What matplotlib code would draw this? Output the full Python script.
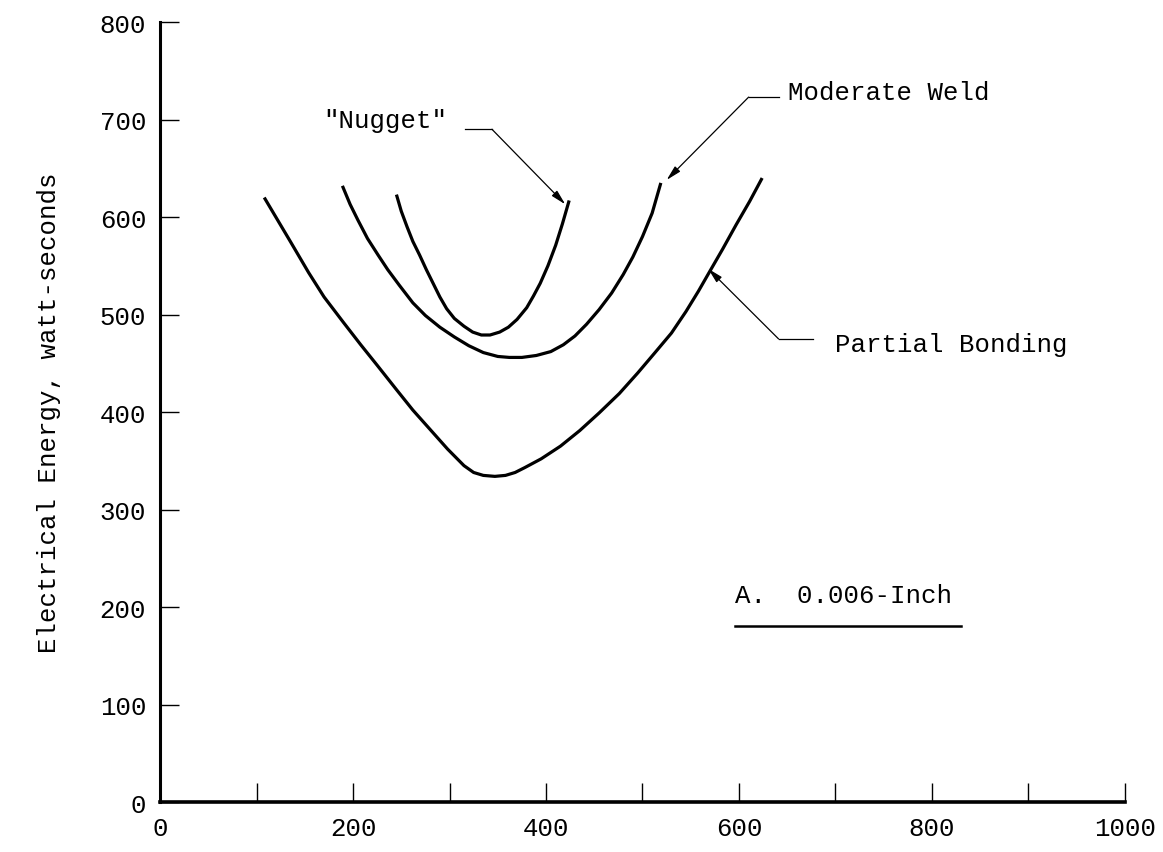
import numpy as np
import matplotlib
matplotlib.use('Agg')
import matplotlib.pyplot as plt

# values (x: unlabeled axis 0-1000, y: watt-seconds)
partial_x = [108, 120, 135, 154, 170, 190, 208, 225, 245, 262, 280, 298, 315,
             325, 335, 347, 358, 368, 378, 395, 415, 435, 455, 476, 495, 513,
             530, 545, 558, 569, 583, 597, 611, 624]
partial_y = [620, 600, 575, 543, 518, 492, 469, 448, 423, 402, 382, 362, 345,
             338, 335, 334, 335, 338, 343, 352, 365, 381, 399, 419, 440, 461,
             481, 503, 524, 543, 567, 592, 616, 640]

moderate_x = [189, 197, 205, 215, 226, 236, 248, 262, 275, 290, 305, 320, 335,
              350, 362, 375, 390, 405, 418, 430, 442, 455, 468, 480, 490, 500,
              510, 519]
moderate_y = [632, 613, 597, 578, 561, 546, 530, 512, 499, 487, 477, 468, 461,
              457, 456, 456, 458, 462, 469, 478, 490, 505, 522, 541, 559, 580,
              604, 635]

nugget_x = [245, 250, 256, 262, 269, 276, 283, 290, 297, 305, 315, 324, 333,
            342, 352, 361, 370, 380, 387, 394, 402, 410, 417, 424]
nugget_y = [623, 606, 590, 575, 561, 546, 532, 518, 506, 496, 488, 482, 479,
            479, 482, 487, 495, 507, 519, 532, 550, 571, 593, 617]

x_ticks = list(range(0, 1001, 100))
x_labels = ['0', '', '200', '', '400', '', '600', '', '800', '', '1000']
y_ticks = list(range(0, 801, 100))

# (label, text position, start of leader, kink, arrow tip)
callouts = [
    ('"Nugget"', (169, 700), (316, 690), (344, 690), (420, 613)),
    ('Moderate Weld', (651, 728), (641, 723), (610, 723), (525, 638)),
    ('Partial Bonding', (700, 470), (677, 475), (641, 475), (568, 547)),
]

FONT = ['Liberation Mono', 'DejaVu Sans Mono']
FS = 18.5


def draw_callout(ax, label, text_pos, start, kink, tip):
    ax.text(text_pos[0], text_pos[1], label, family=FONT, fontsize=FS,
            ha='left', va='center')
    ax.plot([start[0], kink[0]], [start[1], kink[1]], color='black', lw=0.9)
    ax.annotate('', xy=tip, xytext=kink,
                arrowprops=dict(arrowstyle='-|>,head_length=0.9,head_width=0.22',
                                color='black', lw=0.9, shrinkA=0, shrinkB=0))


def main():
    fig = plt.figure(figsize=(11.63, 8.53), dpi=100)
    ax = fig.add_axes([0.1376, 0.0586, 0.8297, 0.9144])

    for xs, ys in ((partial_x, partial_y), (moderate_x, moderate_y), (nugget_x, nugget_y)):
        ax.plot(xs, ys, color='black', lw=2.3, solid_joinstyle='round',
                solid_capstyle='butt')

    for c in callouts:
        draw_callout(ax, *c)

    ax.text(596, 212, 'A.  0.006-Inch', family=FONT, fontsize=FS, ha='left', va='center')
    ax.plot([596, 830], [181, 181], color='black', lw=1.8)

    ax.set_xlim(0, 1000)
    ax.set_ylim(0, 800)
    ax.set_xticks(x_ticks)
    ax.set_xticklabels(x_labels)
    ax.set_yticks(y_ticks)
    ax.tick_params(axis='both', direction='in', length=14, width=1.0,
                   labelsize=FS, pad=10)
    for lab in ax.get_xticklabels() + ax.get_yticklabels():
        lab.set_family(FONT)

    ax.spines['top'].set_visible(False)
    ax.spines['right'].set_visible(False)
    ax.spines['left'].set_linewidth(2.2)
    ax.spines['bottom'].set_linewidth(2.6)

    ax.set_ylabel('Electrical Energy, watt-seconds', family=FONT, fontsize=FS, labelpad=28)

    fig.savefig('out.png', dpi=100)


if __name__ == '__main__':
    main()
